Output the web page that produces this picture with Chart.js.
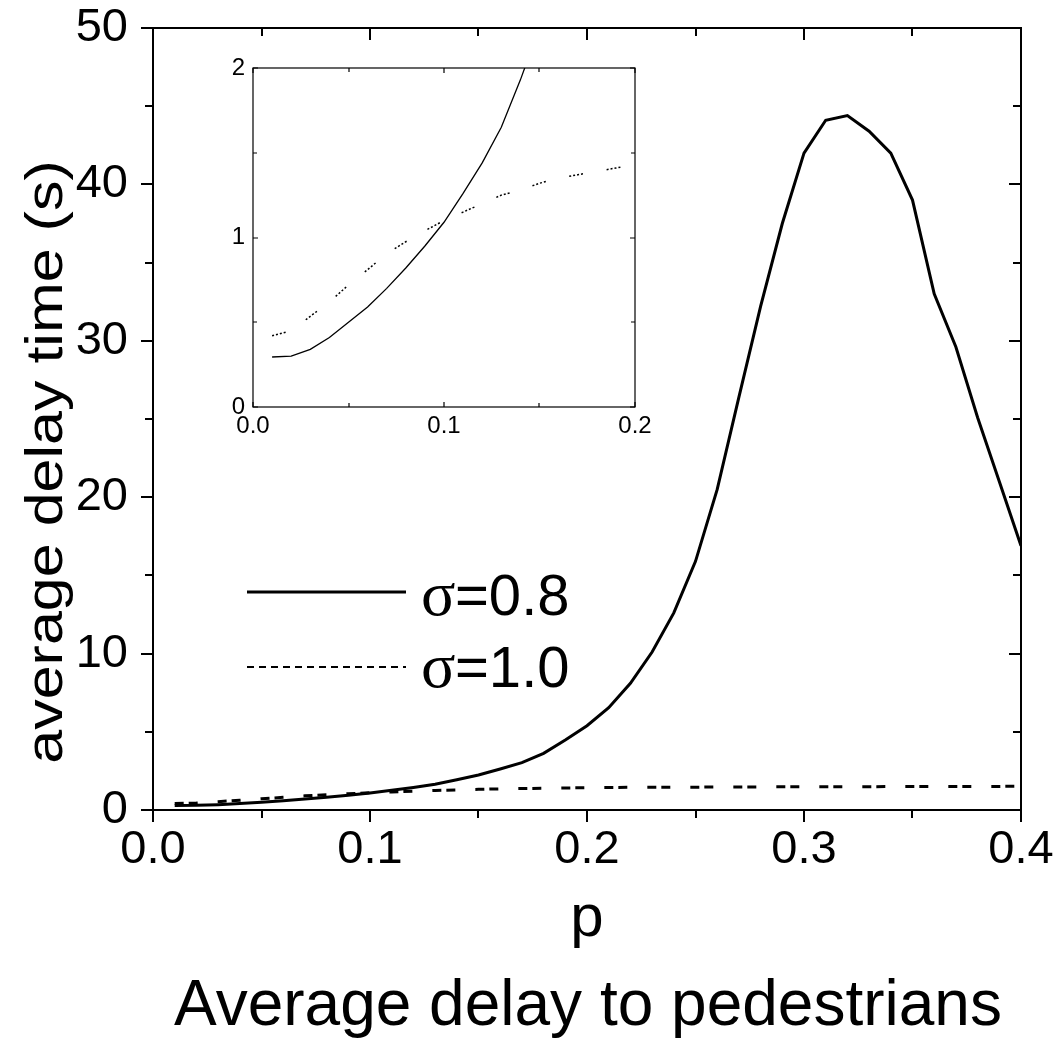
<!DOCTYPE html>
<html>
<head>
<meta charset="utf-8">
<script src="https://cdn.jsdelivr.net/npm/chart.js@4.4.1/dist/chart.umd.min.js"></script>
<style>
body { margin: 0; background: #fff; }
#wrap { position: relative; width: 1056px; height: 1052px; }
#main { position: absolute; left: 0; top: 0; }
#inset { position: absolute; left: 203px; top: 50px; }
</style>
</head>
<body>
<div id="wrap">
<canvas id="main" width="1056" height="1052"></canvas>
<canvas id="inset" width="450" height="400"></canvas>
</div>
<script>
// ---------------- data ----------------
var p_values = [0.01, 0.02, 0.03, 0.04, 0.05, 0.06, 0.07, 0.08, 0.09, 0.10,
                0.11, 0.12, 0.13, 0.14, 0.15, 0.16, 0.17, 0.18, 0.19, 0.20,
                0.21, 0.22, 0.23, 0.24, 0.25, 0.26, 0.27, 0.28, 0.29, 0.30,
                0.31, 0.32, 0.33, 0.34, 0.35, 0.36, 0.37, 0.38, 0.39, 0.40];
// sigma = 0.8 (solid)
var delay_sigma08 = [0.295, 0.30, 0.34, 0.41, 0.50, 0.59, 0.70, 0.82, 0.95, 1.09,
                     1.26, 1.44, 1.65, 1.93, 2.24, 2.62, 3.03, 3.62, 4.48, 5.39,
                     6.54, 8.10, 10.1, 12.6, 15.9, 20.5, 26.4, 32.2, 37.5, 42.0,
                     44.1, 44.4, 43.4, 42.0, 39.0, 33.0, 29.6, 25.1, 21.0, 16.9];
// sigma = 1.0 (dashed)
var delay_sigma10 = [0.42, 0.45, 0.535, 0.62, 0.72, 0.81, 0.905, 0.975, 1.04, 1.10,
                     1.15, 1.20, 1.25, 1.28, 1.32, 1.35, 1.37, 1.39, 1.41, 1.43,
                     1.44, 1.45, 1.45, 1.46, 1.46, 1.47, 1.47, 1.48, 1.48, 1.48,
                     1.49, 1.49, 1.49, 1.50, 1.50, 1.50, 1.51, 1.51, 1.51, 1.52];

var series_labels = ['σ=0.8', 'σ=1.0'];

// tick positions (major ones get labels)
var main_x_ticks = [0, 0.05, 0.1, 0.15, 0.2, 0.25, 0.3, 0.35, 0.4];
var main_x_major = [0, 0.1, 0.2, 0.3, 0.4];
var main_y_ticks = [0, 5, 10, 15, 20, 25, 30, 35, 40, 45, 50];
var main_y_major = [0, 10, 20, 30, 40, 50];
var inset_x_ticks = [0, 0.05, 0.1, 0.15, 0.2];
var inset_x_major = [0, 0.1, 0.2];
var inset_y_ticks = [0, 0.5, 1, 1.5, 2];
var inset_y_major = [0, 1, 2];

var SANS = "'Liberation Sans', Arial, sans-serif";
var SERIF = "'Liberation Serif', 'Times New Roman', serif";

function toPoints(xs, ys) {
    return xs.map(function (x, i) { return { x: x, y: ys[i] }; });
}

function isMajor(list, v) {
    return list.some(function (m) { return Math.abs(m - v) < 1e-9; });
}

// box + tick marks, positions come from the chart's scales
function drawFrame(chart, cfg) {
    var ctx = chart.ctx, a = chart.chartArea;
    var xs = chart.scales.x, ys = chart.scales.y;
    ctx.save();
    ctx.strokeStyle = '#000';
    ctx.lineWidth = cfg.lineWidth;
    ctx.strokeRect(a.left, a.top, a.right - a.left, a.bottom - a.top);
    ctx.beginPath();
    cfg.xTicks.forEach(function (v) {
        var px = Math.round(xs.getPixelForValue(v));
        var len = isMajor(cfg.xMajor, v) ? cfg.major : cfg.minor;
        ctx.moveTo(px, a.bottom);
        ctx.lineTo(px, a.bottom + (cfg.outward ? len : -len));
        ctx.moveTo(px, a.top);
        ctx.lineTo(px, a.top + len);
    });
    cfg.yTicks.forEach(function (v) {
        var py = Math.round(ys.getPixelForValue(v));
        var len = isMajor(cfg.yMajor, v) ? cfg.major : cfg.minor;
        ctx.moveTo(a.left, py);
        ctx.lineTo(a.left + (cfg.outward ? -len : len), py);
        ctx.moveTo(a.right, py);
        ctx.lineTo(a.right - len, py);
    });
    ctx.stroke();
    ctx.restore();
}

// ---------------- main chart ----------------
var mainFrame = {
    id: 'mainFrame',
    afterDraw: function (chart) {
        drawFrame(chart, {
            lineWidth: 2, major: 12, minor: 8, outward: true,
            xTicks: main_x_ticks, xMajor: main_x_major,
            yTicks: main_y_ticks, yMajor: main_y_major
        });
        var ctx = chart.ctx;
        ctx.save();
        ctx.fillStyle = '#000';
        ctx.strokeStyle = '#000';

        // y title (the original glyphs are a bit squat)
        ctx.save();
        ctx.translate(62, 462);
        ctx.rotate(-Math.PI / 2);
        ctx.scale(1, 0.86);
        ctx.font = '61px ' + SANS;
        ctx.textAlign = 'center';
        ctx.textBaseline = 'alphabetic';
        ctx.fillText('average delay time (s)', 0, 0);
        ctx.restore();

        // x title and caption
        ctx.textAlign = 'center';
        ctx.textBaseline = 'alphabetic';
        ctx.font = '60px ' + SANS;
        ctx.fillText('p', 587, 936);
        ctx.font = '64px ' + SANS;
        ctx.fillText('Average delay to pedestrians', 588, 1025);

        // legend
        ctx.lineWidth = 3;
        ctx.beginPath();
        ctx.moveTo(247, 592);
        ctx.lineTo(406, 592);
        ctx.stroke();
        ctx.lineWidth = 2;
        ctx.setLineDash([7, 5]);
        ctx.beginPath();
        ctx.moveTo(247, 667);
        ctx.lineTo(406, 667);
        ctx.stroke();
        ctx.setLineDash([]);

        ctx.textAlign = 'left';
        [[series_labels[0], 615], [series_labels[1], 687]].forEach(function (row) {
            ctx.font = '64px ' + SERIF;
            ctx.fillText(row[0].charAt(0), 421, row[1]);
            ctx.font = '58px ' + SANS;
            ctx.fillText(row[0].slice(1), 455, row[1]);
        });
        ctx.restore();
    }
};

new Chart(document.getElementById('main').getContext('2d'), {
    type: 'line',
    data: {
        datasets: [{
            label: series_labels[0],
            data: toPoints(p_values, delay_sigma08),
            borderColor: '#000',
            borderWidth: 3,
            pointRadius: 0,
            tension: 0,
            fill: false
        }, {
            label: series_labels[1],
            data: toPoints(p_values, delay_sigma10),
            borderColor: '#000',
            borderWidth: 3,
            borderDash: [9, 5, 9, 20],
            pointRadius: 0,
            tension: 0,
            fill: false
        }]
    },
    options: {
        responsive: false,
        animation: false,
        devicePixelRatio: 1,
        layout: { padding: { left: 0, top: 28, right: 35, bottom: 0 } },
        plugins: { legend: { display: false }, tooltip: { enabled: false } },
        scales: {
            x: {
                type: 'linear', min: 0, max: 0.4,
                grid: { display: false, drawTicks: false },
                border: { display: false },
                ticks: {
                    stepSize: 0.1, padding: 12, color: '#000',
                    font: { family: SANS, size: 47 },
                    callback: function (v) { return v.toFixed(1); }
                },
                afterFit: function (s) { s.height = 242; s.paddingLeft = 0; s.paddingRight = 0; }
            },
            y: {
                min: 0, max: 50,
                grid: { display: false, drawTicks: false },
                border: { display: false },
                ticks: {
                    stepSize: 10, padding: 25, color: '#000',
                    font: { family: SANS, size: 47 }
                },
                afterFit: function (s) { s.width = 153; s.paddingTop = 0; s.paddingBottom = 0; }
            }
        }
    },
    plugins: [mainFrame]
});

// ---------------- inset ----------------
var insetFrame = {
    id: 'insetFrame',
    afterDraw: function (chart) {
        drawFrame(chart, {
            lineWidth: 1.2, major: 5, minor: 4, outward: false,
            xTicks: inset_x_ticks, xMajor: inset_x_major,
            yTicks: inset_y_ticks, yMajor: inset_y_major
        });
    }
};

new Chart(document.getElementById('inset').getContext('2d'), {
    type: 'line',
    data: {
        datasets: [{
            label: series_labels[0],
            data: toPoints(p_values, delay_sigma08),
            borderColor: '#000',
            borderWidth: 1.3,
            pointRadius: 0,
            tension: 0,
            fill: false
        }, {
            label: series_labels[1],
            data: toPoints(p_values, delay_sigma10),
            borderColor: '#000',
            borderWidth: 1.5,
            borderDash: [2, 2, 2, 2, 2, 2, 2, 24],
            pointRadius: 0,
            tension: 0,
            fill: false
        }]
    },
    options: {
        responsive: false,
        animation: false,
        devicePixelRatio: 1,
        layout: { padding: { left: 0, top: 18, right: 18, bottom: 0 } },
        plugins: { legend: { display: false }, tooltip: { enabled: false } },
        scales: {
            x: {
                type: 'linear', min: 0, max: 0.2,
                grid: { display: false, drawTicks: false },
                border: { display: false },
                ticks: {
                    stepSize: 0.1, padding: 5, color: '#000',
                    font: { family: SANS, size: 24 },
                    callback: function (v) { return v.toFixed(1); }
                },
                afterFit: function (s) { s.height = 43; s.paddingLeft = 0; s.paddingRight = 0; }
            },
            y: {
                min: 0, max: 2,
                grid: { display: false, drawTicks: false },
                border: { display: false },
                ticks: {
                    stepSize: 1, padding: 8, color: '#000',
                    font: { family: SANS, size: 24 }
                },
                afterFit: function (s) { s.width = 50; s.paddingTop = 0; s.paddingBottom = 0; }
            }
        }
    },
    plugins: [insetFrame]
});
</script>
</body>
</html>
